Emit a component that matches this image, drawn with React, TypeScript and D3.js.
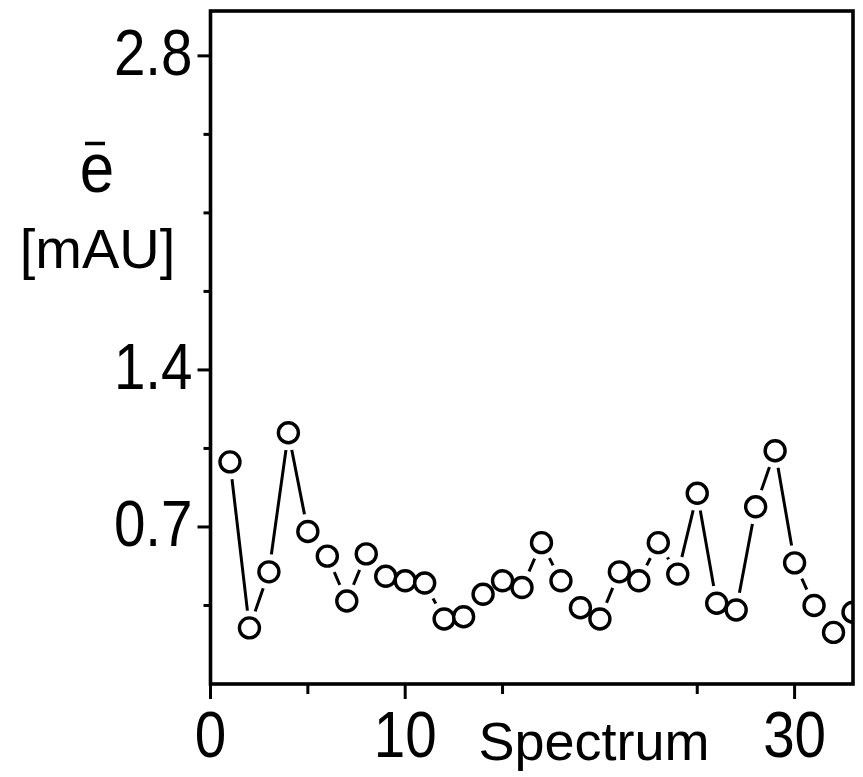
import React from "react";
import * as d3 from "d3";

// Mean error per spectrum (mAU), spectra 1..33
const spectra = d3.range(1, 34);
const meanError = [
  0.99, 0.25, 0.5, 1.12, 0.68, 0.57, 0.37, 0.58, 0.48, 0.46, 0.45,
  0.29, 0.3, 0.4, 0.46, 0.43, 0.63, 0.46, 0.34, 0.29, 0.5, 0.46,
  0.63, 0.49, 0.85, 0.36, 0.33, 0.79, 1.04, 0.54, 0.35, 0.23, 0.32,
];

const yLabelTicks = [0.7, 1.4, 2.8];
const yMinorTicks = [0.35, 1.05, 1.75, 2.1, 2.45];
const xLabelTicks = [0, 10, 30];
const xMinorTicks = [5, 15, 25];

const W = 863;
const H = 777;
const left = 210.5;
const right = 853;
const top = 11;
const bottom = 684;

export default function App() {
  const x = d3.scaleLinear().domain([0, 33]).range([left, right]);
  const y = d3.scaleLinear().domain([0, 3.0]).range([bottom, top]);

  const pts = spectra.map((s, i) => [s, meanError[i]] as [number, number]);
  const line = d3
    .line<[number, number]>()
    .x((d) => x(d[0]))
    .y((d) => y(d[1]));

  const font = "'Liberation Sans', Arial, sans-serif";
  const tickFs = 65;
  const sx = 0.87;

  return (
    <svg
      width={W}
      height={H}
      style={{ position: "absolute", left: 0, top: 0, background: "#fff" }}
      fontFamily={font}
    >
      <defs>
        <clipPath id="plotClip">
          <rect x={left} y={top} width={right - left} height={bottom - top} />
        </clipPath>
      </defs>
      <rect width={W} height={H} fill="#fff" />

      <g clipPath="url(#plotClip)">
        <path d={line(pts) || ""} fill="none" stroke="#000" strokeWidth={3} />
        {/* white gap around each marker */}
        {pts.map((d, i) => (
          <circle key={"h" + i} cx={x(d[0])} cy={y(d[1])} r={17.5} fill="#fff" />
        ))}
        {pts.map((d, i) => (
          <circle
            key={i}
            cx={x(d[0])}
            cy={y(d[1])}
            r={10}
            fill="#fff"
            stroke="#000"
            strokeWidth={3.4}
          />
        ))}
      </g>

      {/* frame */}
      <rect
        x={left}
        y={top}
        width={right - left}
        height={bottom - top}
        fill="none"
        stroke="#000"
        strokeWidth={3.6}
      />

      {/* y ticks */}
      {yLabelTicks.map((t) => (
        <g key={"yl" + t}>
          <line x1={left - 13} x2={left} y1={y(t)} y2={y(t)} stroke="#000" strokeWidth={3} />
          <text
            transform={`translate(${left - 18},${y(t) + 19}) scale(${sx},1)`}
            textAnchor="end"
            fontSize={tickFs}
            fill="#000"
          >
            {t.toFixed(1)}
          </text>
        </g>
      ))}
      {yMinorTicks.map((t) => (
        <line key={"ym" + t} x1={left - 7} x2={left} y1={y(t)} y2={y(t)} stroke="#000" strokeWidth={3} />
      ))}

      {/* x ticks */}
      {xLabelTicks.map((t) => (
        <g key={"xl" + t}>
          <line x1={x(t)} x2={x(t)} y1={bottom} y2={bottom + 15} stroke="#000" strokeWidth={3} />
          <text
            transform={`translate(${x(t)},${757}) scale(${sx},1)`}
            textAnchor="middle"
            fontSize={tickFs}
            fill="#000"
          >
            {t}
          </text>
        </g>
      ))}
      {xMinorTicks.map((t) => (
        <line key={"xm" + t} x1={x(t)} x2={x(t)} y1={bottom} y2={bottom + 10} stroke="#000" strokeWidth={3} />
      ))}

      {/* x axis title */}
      <text x={594} y={760} textAnchor="middle" fontSize={54} fill="#000">
        Spectrum
      </text>

      {/* y axis title: e with overbar, then unit */}
      <line x1={85} x2={105} y1={143.5} y2={143.5} stroke="#000" strokeWidth={3.5} />
      <text
        transform="translate(97,192) scale(1,1.15)"
        textAnchor="middle"
        fontSize={62}
        fill="#000"
      >
        e
      </text>
      <text x={97.5} y={268} textAnchor="middle" fontSize={56} fill="#000">
        [mAU]
      </text>
    </svg>
  );
}
